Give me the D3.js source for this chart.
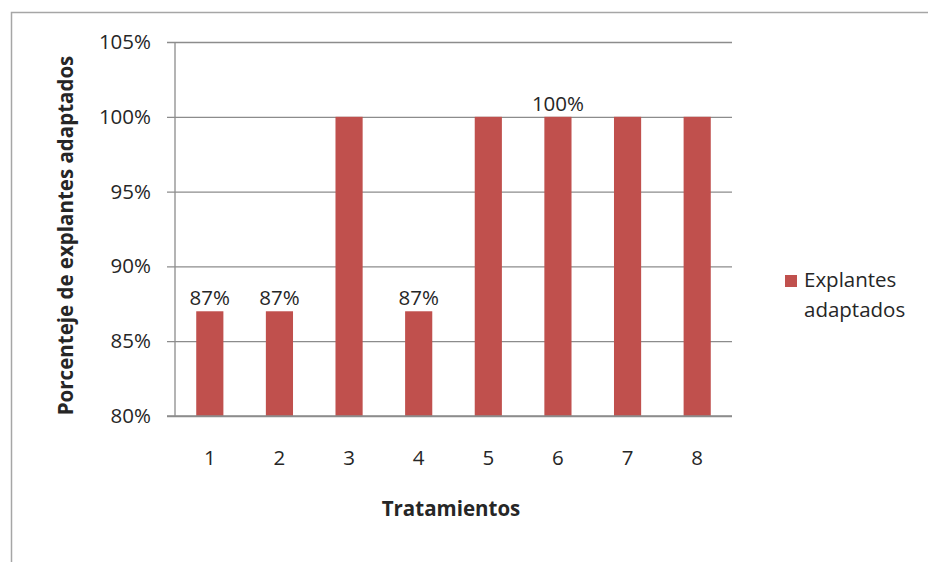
<!DOCTYPE html>
<html>
<head>
<meta charset="utf-8">
<script src="https://cdn.jsdelivr.net/npm/d3@7"></script>
<style>
  html, body { margin: 0; padding: 0; background: #fff; }
  svg { display: block; }
  text { font-family: "Open Sans", "DejaVu Sans", sans-serif; fill: #262626; }
</style>
</head>
<body>
<svg id="chart" width="928" height="562"></svg>
<script>
// Treatments and percentage of adapted explants per treatment
const categories = ["1", "2", "3", "4", "5", "6", "7", "8"];
const values = [0.87, 0.87, 1.00, 0.87, 1.00, 1.00, 1.00, 1.00];
// Which bars carry a value label
const labelled = [true, true, false, true, false, true, false, false];
const yTicks = [0.80, 0.85, 0.90, 0.95, 1.00, 1.05];
const seriesName = ["Explantes", "adaptados"];
const xTitle = "Tratamientos";
const yTitle = "Porcenteje de explantes adaptados";

const svg = d3.select("#chart");
const barColor = "#C0504D";
const gridColor = "#8c8c8c";
const fs = "20.5px";

// Outer chart frame
svg.append("rect")
  .attr("x", 11.5).attr("y", 12.5)
  .attr("width", 1000).attr("height", 1000)
  .attr("fill", "none")
  .attr("stroke", "#a6a6a6")
  .attr("stroke-width", 1.5);

const plot = { left: 175, right: 732, top: 42, bottom: 416 };

const x = d3.scaleBand()
  .domain(categories)
  .range([plot.left, plot.right])
  .paddingInner(0.61)
  .paddingOuter(0.305);

const y = d3.scaleLinear()
  .domain([0.80, 1.05])
  .range([plot.bottom, plot.top]);

const pct = d3.format(".0%");

// Horizontal gridlines with left tick marks
const yAxis = d3.axisLeft(y)
  .tickValues(yTicks)
  .tickFormat(pct)
  .tickSize(-(plot.right - plot.left))
  .tickPadding(24);

const gy = svg.append("g")
  .attr("transform", `translate(${plot.left},0)`)
  .call(yAxis);
gy.select(".domain").remove();
gy.selectAll(".tick line")
  .attr("stroke", gridColor)
  .attr("stroke-width", 1.3)
  .attr("x1", -8);
gy.selectAll(".tick text")
  .style("font-size", fs)
  .attr("fill", "#262626");

// Vertical axis line
svg.append("line")
  .attr("x1", plot.left).attr("x2", plot.left)
  .attr("y1", plot.top).attr("y2", plot.bottom)
  .attr("stroke", gridColor).attr("stroke-width", 1.3);

// Bars
svg.append("g").selectAll("rect")
  .data(values)
  .join("rect")
  .attr("x", (d, i) => x(categories[i]))
  .attr("width", x.bandwidth())
  .attr("y", d => y(d))
  .attr("height", d => y(0.80) - y(d))
  .attr("fill", barColor);

// Category axis
const xAxis = d3.axisBottom(x).tickSize(0).tickPadding(34);
const gx = svg.append("g")
  .attr("transform", `translate(0,${plot.bottom})`)
  .call(xAxis);
gx.select(".domain")
  .attr("d", `M${plot.left - 8},0H${plot.right}`)
  .attr("stroke", gridColor)
  .attr("stroke-width", 1.3);
gx.selectAll(".tick text")
  .style("font-size", fs)
  .attr("fill", "#262626");

// Value labels
svg.append("g").selectAll("text")
  .data(values.map((v, i) => ({ v, i })).filter(d => labelled[d.i]))
  .join("text")
  .attr("x", d => x(categories[d.i]) + x.bandwidth() / 2)
  .attr("y", d => y(d.v) - 6)
  .attr("text-anchor", "middle")
  .style("font-size", fs)
  .text(d => pct(d.v));

// Axis titles
svg.append("text")
  .attr("x", 451)
  .attr("y", 516)
  .attr("text-anchor", "middle")
  .style("font-size", fs)
  .style("font-weight", "bold")
  .text(xTitle);

svg.append("text")
  .attr("transform", `translate(73,235.5) rotate(-90)`)
  .attr("text-anchor", "middle")
  .style("font-size", fs)
  .style("font-weight", "bold")
  .text(yTitle);

// Legend
const lg = svg.append("g").attr("transform", "translate(785,275)");
lg.append("rect").attr("width", 12).attr("height", 12).attr("fill", barColor);
lg.selectAll("text")
  .data(seriesName)
  .join("text")
  .attr("x", 19)
  .attr("y", (d, i) => 12 + i * 30)
  .style("font-size", fs)
  .text(d => d);
</script>
</body>
</html>
